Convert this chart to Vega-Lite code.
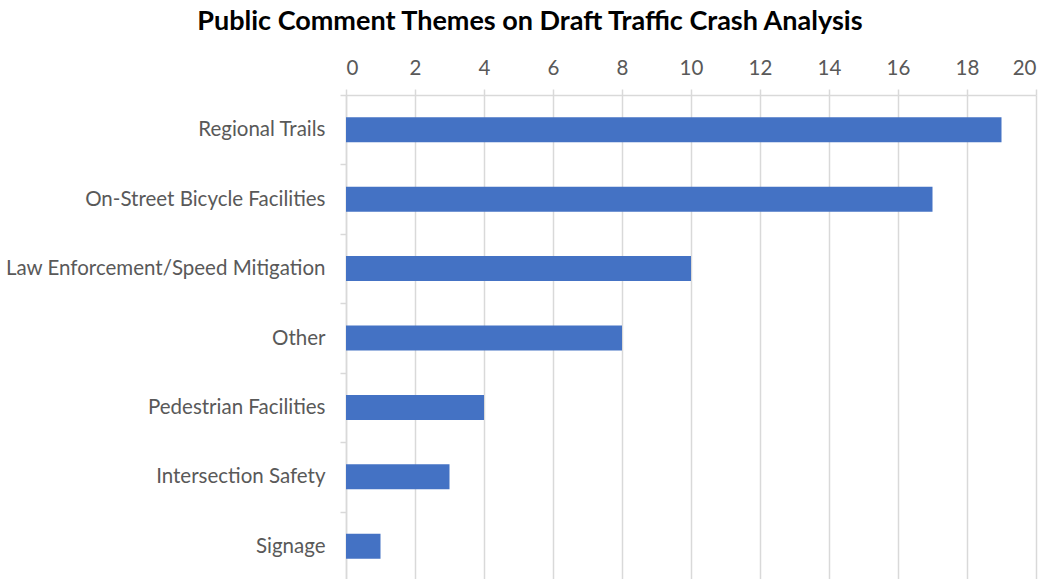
{
  "$schema": "https://vega.github.io/schema/vega-lite/v6.json",
  "width": 690,
  "height": 486,
  "autosize": {"type": "none"},
  "padding": {"left": 346, "top": 95, "right": 13, "bottom": 0},
  "background": "white",
  "title": {
    "text": "Public Comment Themes on Draft Traffic Crash Analysis",
    "font": "Lato",
    "fontSize": 27,
    "fontWeight": "bold",
    "color": "#000000",
    "anchor": "middle",
    "frame": "bounds",
    "dx": 9,
    "offset": 22
  },
  "data": {
    "values": [
      {"theme": "Regional Trails", "count": 19},
      {"theme": "On-Street Bicycle Facilities", "count": 17},
      {"theme": "Law Enforcement/Speed Mitigation", "count": 10},
      {"theme": "Other", "count": 8},
      {"theme": "Pedestrian Facilities", "count": 4},
      {"theme": "Intersection Safety", "count": 3},
      {"theme": "Signage", "count": 1}
    ]
  },
  "mark": {"type": "bar", "color": "#4472C4"},
  "encoding": {
    "y": {
      "field": "theme",
      "type": "nominal",
      "sort": null,
      "title": null,
      "scale": {"paddingInner": 0.64, "paddingOuter": 0.32},
      "axis": {
        "domainColor": "#d9d9d9",
        "domainWidth": 1.5,
        "tickColor": "#d9d9d9",
        "tickWidth": 1.5,
        "tickSize": 6,
        "tickBand": "center",
        "tickOffset": -34.7,
        "labelOffset": 34.7,
        "labelPadding": 15,
        "labelFont": "Lato",
        "labelFontSize": 20.5,
        "labelColor": "#595959",
        "labelLimit": 400
      }
    },
    "x": {
      "field": "count",
      "type": "quantitative",
      "title": null,
      "scale": {"domain": [0, 20], "nice": false},
      "axis": {
        "orient": "top",
        "values": [0, 2, 4, 6, 8, 10, 12, 14, 16, 18, 20],
        "domainColor": "#d9d9d9",
        "domainWidth": 1.5,
        "tickColor": "#d9d9d9",
        "tickWidth": 1.5,
        "tickSize": 6,
        "gridColor": "#d9d9d9",
        "gridWidth": 1.5,
        "labelPadding": 11,
        "labelFont": "Lato",
        "labelFontSize": 20.5,
        "labelColor": "#595959"
      }
    }
  },
  "config": {"view": {"stroke": null}}
}
